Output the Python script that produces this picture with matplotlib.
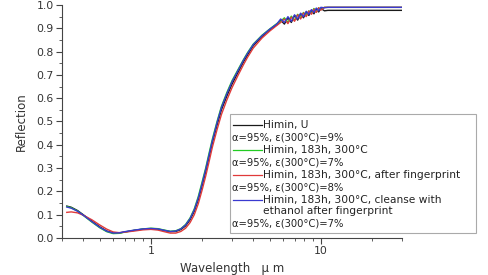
import matplotlib
matplotlib.use("Agg")
import matplotlib.pyplot as plt
from matplotlib.lines import Line2D
from matplotlib.patches import Rectangle
from matplotlib.ticker import MultipleLocator, LogLocator, NullFormatter, FixedLocator, FixedFormatter

plt.rcParams['font.family'] = ['DejaVu Sans']

wl = [0.32, 0.34, 0.37, 0.4, 0.45, 0.5, 0.55, 0.6, 0.65, 0.7, 0.8, 0.9, 1.0, 1.1, 1.2, 1.3, 1.4,
      1.5, 1.6, 1.7, 1.8, 1.9, 2.0, 2.1, 2.2, 2.3, 2.45, 2.6, 2.8, 3.0, 3.25, 3.5, 3.7, 4.0, 4.5,
      5.0, 5.5, 5.8, 6.1, 6.4, 6.7, 7.0, 7.3, 7.6, 7.9, 8.2, 8.5, 8.8, 9.1, 9.4, 9.7, 10.0, 10.5,
      11.0, 12.0, 30.0]

himin_u = [0.137, 0.132, 0.118, 0.100, 0.072, 0.048, 0.030, 0.021, 0.021, 0.026, 0.033, 0.038, 0.040,
           0.038, 0.032, 0.027, 0.028, 0.036, 0.052, 0.078, 0.115, 0.165, 0.225, 0.285, 0.350, 0.410,
           0.485, 0.550, 0.610, 0.660, 0.710, 0.755, 0.785, 0.825, 0.865, 0.893, 0.915, 0.935, 0.918,
           0.945, 0.925, 0.955, 0.935, 0.962, 0.945, 0.970, 0.955, 0.978, 0.962, 0.983, 0.970, 0.985,
           0.975, 0.977, 0.977, 0.977]

himin_183h = [0.135, 0.130, 0.116, 0.097, 0.068, 0.044, 0.027, 0.019, 0.020, 0.025, 0.033, 0.039, 0.042,
              0.040, 0.034, 0.029, 0.031, 0.040, 0.058, 0.086, 0.125, 0.178, 0.240, 0.300, 0.365, 0.425,
              0.500, 0.565, 0.625, 0.675, 0.722, 0.765, 0.795, 0.832, 0.870, 0.897, 0.920, 0.930, 0.945,
              0.925, 0.952, 0.935, 0.960, 0.945, 0.968, 0.955, 0.975, 0.965, 0.985, 0.970, 0.988, 0.980,
              0.990, 0.990, 0.990, 0.990]

himin_fp = [0.110, 0.112, 0.108, 0.098, 0.078, 0.056, 0.038, 0.026, 0.023, 0.025, 0.030, 0.035, 0.037,
            0.034, 0.027, 0.021, 0.021, 0.028, 0.042, 0.066, 0.100, 0.147, 0.205, 0.265, 0.328, 0.390,
            0.465, 0.530, 0.593, 0.645, 0.697, 0.743, 0.775, 0.815, 0.858, 0.888, 0.912, 0.925, 0.940,
            0.920, 0.948, 0.930, 0.958, 0.940, 0.966, 0.950, 0.974, 0.960, 0.982, 0.968, 0.988, 0.978,
            0.990, 0.990, 0.990, 0.990]

himin_clean = [0.133, 0.128, 0.115, 0.098, 0.070, 0.046, 0.029, 0.021, 0.022, 0.027, 0.034, 0.039, 0.041,
               0.039, 0.033, 0.028, 0.030, 0.039, 0.056, 0.083, 0.121, 0.172, 0.233, 0.294, 0.358, 0.418,
               0.495, 0.560, 0.620, 0.670, 0.718, 0.762, 0.792, 0.830, 0.868, 0.896, 0.918, 0.940, 0.925,
               0.950, 0.930, 0.958, 0.940, 0.965, 0.950, 0.973, 0.960, 0.980, 0.968, 0.987, 0.975, 0.990,
               0.988, 0.990, 0.990, 0.990]

series = [
    (himin_u, '#1a1a1a', ['Himin, U'], 'α=95%, ε(300°C)=9%'),
    (himin_183h, '#22cc22', ['Himin, 183h, 300°C'], 'α=95%, ε(300°C)=7%'),
    (himin_fp, '#e03a3a', ['Himin, 183h, 300°C, after fingerprint'], 'α=95%, ε(300°C)=8%'),
    (himin_clean, '#3a3ad0', ['Himin, 183h, 300°C, cleanse with', 'ethanol after fingerprint'],
     'α=95%, ε(300°C)=7%'),
]

W, H = 489, 275
fig = plt.figure(figsize=(W / 100, H / 100), dpi=100)
ax = fig.add_axes([62 / W, 1 - 238 / H, (402 - 62) / W, (238 - 5) / H])

for vals, col, _, _ in series:
    ax.plot(wl, vals, color=col, lw=1.0)

ax.set_xscale('log')
ax.set_xlim(0.3, 30)
ax.set_ylim(0, 1.0)
ax.spines['top'].set_visible(False)
ax.spines['right'].set_visible(False)
for s in ['left', 'bottom']:
    ax.spines[s].set_color('#444444')
    ax.spines[s].set_linewidth(0.8)

ax.yaxis.set_major_locator(MultipleLocator(0.1))
ax.yaxis.set_minor_locator(MultipleLocator(0.05))
ax.yaxis.set_major_formatter(matplotlib.ticker.FormatStrFormatter('%.1f'))
ax.xaxis.set_major_locator(FixedLocator([1, 10]))
ax.xaxis.set_major_formatter(FixedFormatter(['1', '10']))
ax.xaxis.set_minor_locator(LogLocator(base=10, subs=[2, 3, 4, 5, 6, 7, 8, 9]))
ax.xaxis.set_minor_formatter(NullFormatter())
ax.tick_params(axis='both', which='major', direction='out', length=4, width=0.8, color='#444444',
               labelsize=7.8, labelcolor='#333333', pad=2)
ax.tick_params(axis='both', which='minor', direction='out', length=2, width=0.6, color='#444444')

ax.set_ylabel('Reflection', fontsize=8.5, color='#333333', labelpad=6)
ax.set_xlabel('Wavelength   µ m', fontsize=8.5, color='#333333', labelpad=4)

# legend box drawn manually in pixel coordinates
def fx(px):
    return px / W

def fy(py):
    return 1 - py / H

fig.add_artist(Rectangle((fx(230), fy(233)), fx(476) - fx(230), fy(114) - fy(233),
                         transform=fig.transFigure, facecolor='white', edgecolor='#aaaaaa', lw=0.8))
row = 125
step = 12.5
for vals, col, labels, note in series:
    fig.add_artist(Line2D([fx(233), fx(262)], [fy(row), fy(row)], color=col, lw=0.9,
                          transform=fig.transFigure))
    for i, lab in enumerate(labels):
        fig.text(fx(263), fy(row + i * 11), lab, fontsize=7.7, color='#222222', va='center', ha='left')
    row += step + (len(labels) - 1) * 11
    fig.text(fx(232), fy(row), note, fontsize=7.2, color='#222222', va='center', ha='left')
    row += step

fig.savefig('out.png', dpi=100)
